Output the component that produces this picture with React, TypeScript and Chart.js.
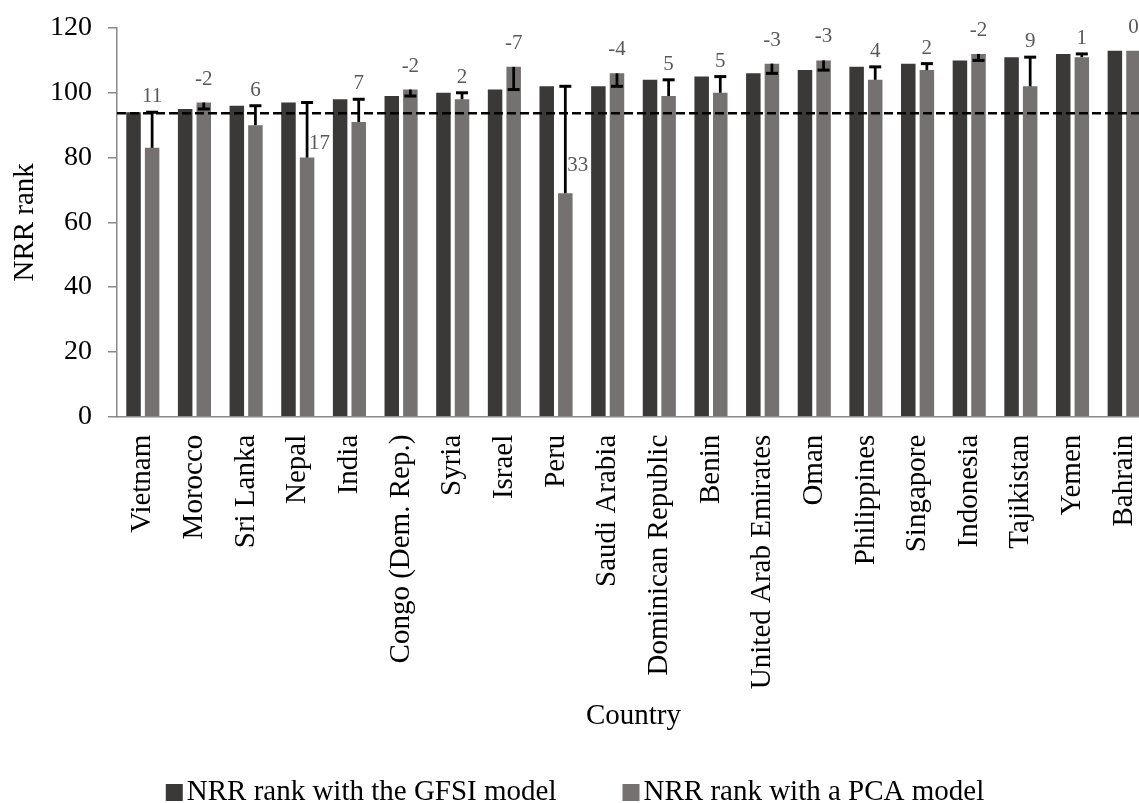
import React, { useEffect, useRef } from "react";
import { Chart, registerables } from "chart.js";

Chart.register(...registerables);

const countries = [
  "Vietnam", "Morocco", "Sri Lanka", "Nepal", "India", "Congo (Dem. Rep.)", "Syria", "Israel", "Peru",
  "Saudi Arabia", "Dominican Republic", "Benin", "United Arab Emirates", "Oman", "Philippines",
  "Singapore", "Indonesia", "Tajikistan", "Yemen", "Bahrain",
];
const gfsiRanks = [94, 95, 96, 97, 98, 99, 100, 101, 102, 102, 104, 105, 106, 107, 108, 109, 110, 111, 112, 113];
const pcaRanks = [83, 97, 90, 80, 91, 101, 98, 108, 69, 106, 99, 100, 109, 110, 104, 107, 112, 102, 111, 113];
const referenceRank = 93.7;
const yMin = 0;
const yMax = 120;
const yStep = 20;
const seriesNames = ["NRR rank with the GFSI model", "NRR rank with a PCA model"];

const SERIF = "'Liberation Serif', 'Times New Roman', serif";
const AXIS_GRAY = "#898989";

const overlayPlugin = {
  id: "overlay",
  afterDatasetsDraw(chart: any) {
    const ctx = chart.ctx as CanvasRenderingContext2D;
    const ys = chart.scales.y;
    const area = chart.chartArea;
    const meta = chart.getDatasetMeta(1);
    ctx.save();
    // dashed reference line
    const ry = ys.getPixelForValue(referenceRank);
    ctx.strokeStyle = "#000";
    ctx.lineWidth = 2.5;
    ctx.setLineDash([9, 4]);
    ctx.beginPath();
    ctx.moveTo(area.left, ry);
    ctx.lineTo(area.right + 20, ry);
    ctx.stroke();
    ctx.setLineDash([]);
    // error bars
    meta.data.forEach((bar: any, i: number) => {
      const g = gfsiRanks[i];
      const p = pcaRanks[i];
      if (g === p) return;
      const x = bar.x;
      const y1 = ys.getPixelForValue(p);
      const y2 = ys.getPixelForValue(g);
      ctx.lineWidth = 2.75;
      ctx.beginPath();
      ctx.moveTo(x, y1);
      ctx.lineTo(x, y2);
      ctx.stroke();
      ctx.lineWidth = 3;
      ctx.beginPath();
      ctx.moveTo(x - 6, y2);
      ctx.lineTo(x + 6, y2);
      ctx.stroke();
    });
    // data labels (rank shift)
    ctx.fillStyle = "#595959";
    ctx.font = `21px ${SERIF}`;
    meta.data.forEach((bar: any, i: number) => {
      const g = gfsiRanks[i];
      const p = pcaRanks[i];
      const diff = g - p;
      const text = String(diff);
      if (diff > 15) {
        ctx.textAlign = "left";
        ctx.textBaseline = "middle";
        ctx.fillText(text, bar.x + 2, ys.getPixelForValue(p + diff * 0.26));
      } else {
        ctx.textAlign = "center";
        ctx.textBaseline = "alphabetic";
        const top = ys.getPixelForValue(Math.max(g, p));
        ctx.fillText(text, bar.x, top - (diff <= 0 ? 18 : 10));
      }
    });
    ctx.restore();
  },
  afterDraw(chart: any) {
    const ctx = chart.ctx as CanvasRenderingContext2D;
    ctx.save();
    ctx.font = `29px ${SERIF}`;
    const box = 17;
    const gap = 4;
    const spacing = 66;
    const items = chart.data.datasets.map((d: any) => ({
      text: d.label,
      color: d.backgroundColor,
      w: box + gap + ctx.measureText(d.label).width,
    }));
    const total = items.reduce((s: number, it: any) => s + it.w, 0) + spacing * (items.length - 1);
    let x = chart.width / 2 - total / 2;
    const baseline = 800;
    items.forEach((it: any) => {
      ctx.fillStyle = it.color;
      ctx.fillRect(x, baseline - 16, box, box);
      ctx.fillStyle = "#000";
      ctx.textAlign = "left";
      ctx.textBaseline = "alphabetic";
      ctx.fillText(it.text, x + box + gap, baseline);
      x += it.w + spacing;
    });
    ctx.restore();
  },
};

export default function App() {
  const canvasRef = useRef<HTMLCanvasElement | null>(null);

  useEffect(() => {
    if (!canvasRef.current) return;
    const chart = new Chart(canvasRef.current, {
      type: "bar",
      data: {
        labels: countries,
        datasets: [
          {
            label: seriesNames[0],
            data: gfsiRanks,
            backgroundColor: "#3B3838",
            borderWidth: 0,
            categoryPercentage: 0.72,
            barPercentage: 0.78,
          },
          {
            label: seriesNames[1],
            data: pcaRanks,
            backgroundColor: "#767171",
            borderWidth: 0,
            categoryPercentage: 0.72,
            barPercentage: 0.78,
          },
        ],
      },
      options: {
        responsive: false,
        animation: false,
        layout: { padding: { top: 0, right: 0, bottom: 69, left: 0 } },
        plugins: {
          legend: { display: false },
          tooltip: { enabled: false },
        },
        scales: {
          x: {
            grid: { display: false, drawTicks: false },
            border: { display: true, color: AXIS_GRAY, width: 1.5 },
            ticks: {
              autoSkip: false,
              maxRotation: 90,
              minRotation: 90,
              padding: 18,
              color: "#000",
              font: { family: SERIF, size: 29 },
            },
            title: {
              display: true,
              text: "Country",
              color: "#000",
              font: { family: SERIF, size: 29 },
              padding: { top: 10, bottom: 0 },
            },
            afterFit: (s: any) => {
              s.height = 317.3;
              s.paddingLeft = 0;
              s.paddingRight = 0;
            },
          },
          y: {
            min: yMin,
            max: yMax,
            ticks: {
              stepSize: yStep,
              padding: 16,
              color: "#000",
              font: { family: SERIF, size: 28 },
            },
            grid: {
              drawOnChartArea: false,
              drawTicks: true,
              tickLength: 9,
              color: AXIS_GRAY,
              lineWidth: 1.5,
            },
            border: { display: true, color: AXIS_GRAY, width: 1.5 },
            title: {
              display: true,
              text: "NRR rank",
              color: "#000",
              font: { family: SERIF, size: 29 },
              padding: { top: 8, bottom: 7 },
            },
            afterFit: (s: any) => {
              s.width = 117;
              s.paddingTop = 28;
              s.paddingBottom = 17;
            },
          },
        },
      },
      plugins: [overlayPlugin],
    });
    return () => chart.destroy();
  }, []);

  return (
    <div style={{ position: "absolute", left: 0, top: 0, width: 1139, height: 803, overflow: "hidden", background: "#fff" }}>
      <canvas ref={canvasRef} width={1150} height={803} style={{ display: "block", width: 1150, height: 803 }} />
    </div>
  );
}
